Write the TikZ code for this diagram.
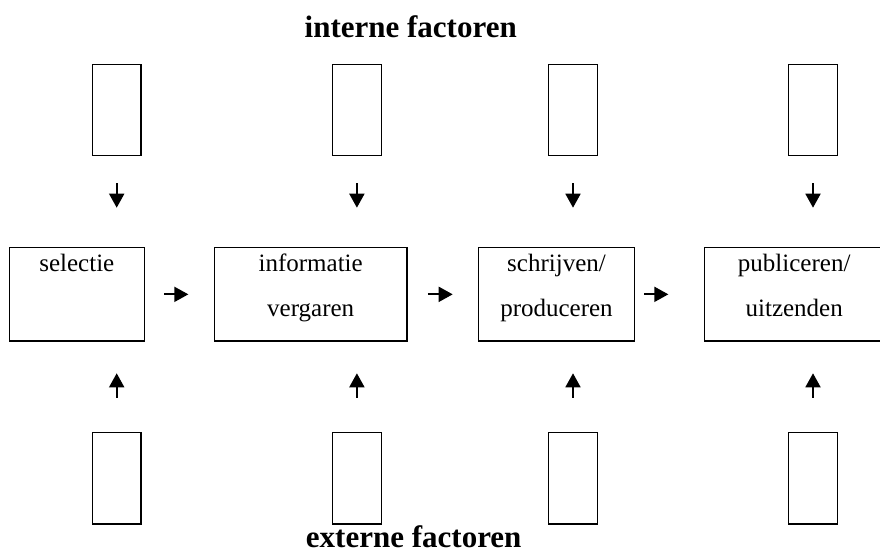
\documentclass[tikz,border=0pt]{standalone}
\usepackage{fontspec}
\setmainfont{Liberation Serif}
\usetikzlibrary{arrows.meta,calc}
\begin{document}
\begin{tikzpicture}[x=1pt,y=-1pt,
  box/.style={draw=black,line width=1.5pt,rectangle,inner sep=0pt,outer sep=0pt},
  smallbox/.style={box,minimum width=48.7pt,minimum height=91.4pt},
  mainbox/.style={box,minimum height=93.3pt},
  lbl/.style={inner sep=0pt,anchor=base,font=\fontsize{25}{30}\selectfont},
  ttl/.style={inner sep=0pt,anchor=base,font=\fontsize{31}{36}\selectfont\bfseries},
  arr/.style={line width=1.8pt,-{Triangle[width=15pt,length=14pt]}}]
\useasboundingbox (0,0) rectangle (880,554);
\begin{scope}
\clip (0,0) rectangle (880,554);
% main boxes
\node[mainbox,minimum width=135pt] (b1) at (76.8,294.35) {};
\node[mainbox,minimum width=192.7pt] (b2) at (310.7,294.35) {};
\node[mainbox,minimum width=155.6pt] (b3) at (556.5,294.35) {};
\node[mainbox,minimum width=179.7pt] (b4) at (794.2,294.35) {};
\end{scope}
% labels
\node[lbl] (l1) at ($(b1.north)+(0,23.3)$) {selectie};
\node[lbl] (l2a) at ($(b2.north)+(0,23.3)$) {informatie};
\node[lbl] (l2b) at ($(b2.north)+(0,69)$) {vergaren};
\node[lbl] (l3a) at ($(b3.north)+(0,23.3)$) {schrijven/};
\node[lbl] (l3b) at ($(b3.north)+(0,69)$) {produceren};
\node[lbl] (l4a) at ($(b4.north)+(0,23.3)$) {publiceren/};
\node[lbl] (l4b) at ($(b4.north)+(0,69)$) {uitzenden};
% small boxes
\foreach \i/\x in {1/116.7,2/356.9,3/573,4/813}{
  \node[smallbox] (t\i) at (\x,110) {};
  \node[smallbox] (u\i) at (\x,478.2) {};
}
% vertical arrows
\foreach \i in {1,2,3,4}{
  \draw[arr,shorten <=27.6pt,shorten >=40pt] (t\i.south) -- (t\i.south |- b1.north);
  \draw[arr,shorten <=34.6pt,shorten >=32.3pt] (u\i.north) -- (u\i.north |- b1.south);
}
% horizontal arrows
\draw[arr,shorten <=19.7pt,shorten >=26pt] (b1.east) -- (b2.west);
\draw[arr,shorten <=20.7pt,shorten >=26pt] (b2.east) -- (b3.west);
\draw[arr,shorten <=9.7pt,shorten >=36pt] (b3.east) -- (b4.west);
% titles
\node[ttl] (intern) at (410.7,37.3) {interne factoren};
\node[ttl] (extern) at (413.7,547) {externe factoren};
\end{tikzpicture}
\end{document}
